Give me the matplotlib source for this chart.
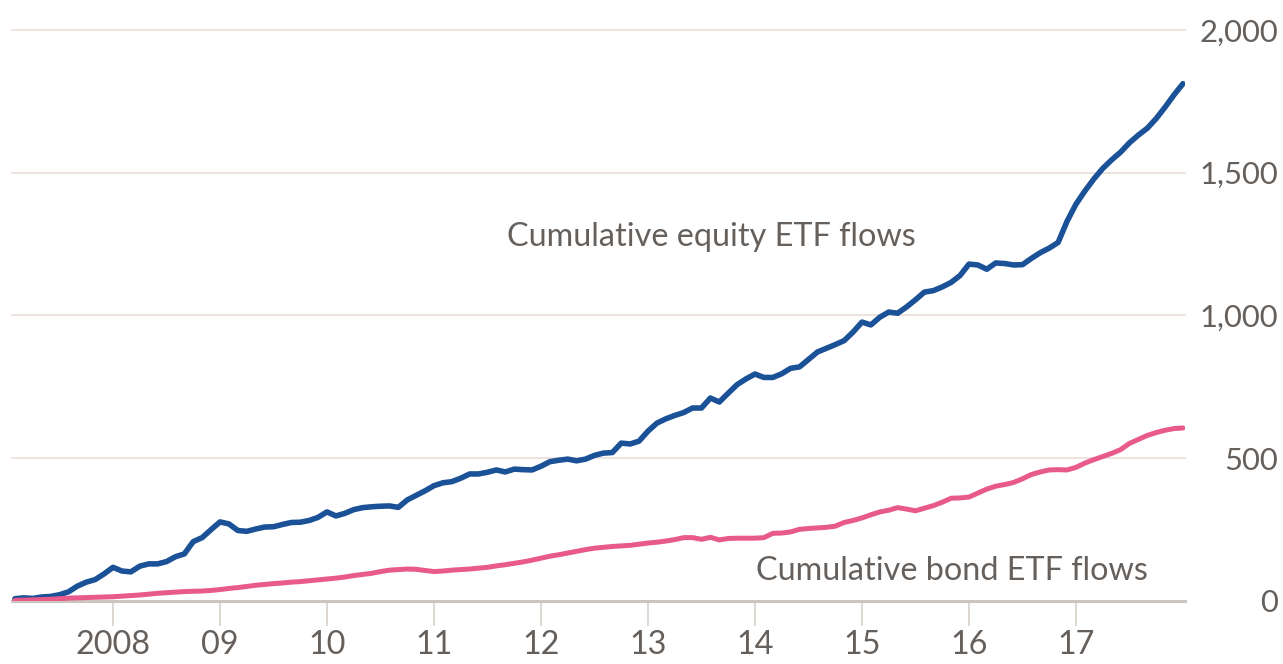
import matplotlib
matplotlib.use('Agg')
import matplotlib.pyplot as plt

# cumulative ETF flows ($bn), month-end values Jan 2007 - Dec 2017
equity_flows = [
    8, 11, 9, 14, 16, 22, 32, 52, 66, 75, 95, 118,
    105, 102, 122, 130, 130, 138, 155, 165, 208, 222, 250, 277,
    270, 247, 244, 252, 259, 260, 268, 275, 276, 282, 293, 312,
    298, 307, 320, 327, 330, 332, 333, 328, 354, 370, 386, 404,
    414, 418, 430, 445, 445, 451, 459, 452, 462, 460, 459, 472,
    488, 493, 497, 491, 497, 510, 518, 520, 553, 550, 560, 595,
    623, 638, 650, 660, 676, 676, 711, 697, 728, 758, 778, 795,
    783, 783, 796, 815, 820, 846, 872, 885, 898, 912, 942, 977,
    967, 994, 1012, 1008, 1030, 1055, 1082, 1087, 1100, 1116, 1140, 1180,
    1177, 1162, 1184, 1182, 1177, 1178, 1200, 1220, 1236, 1256, 1330, 1390,
    1436, 1478, 1515, 1545, 1572, 1605, 1632, 1656, 1690, 1730, 1773, 1812,
]
bond_flows = [
    2, 3, 4, 5, 6, 8, 10, 11, 12, 13, 14, 15,
    17, 19, 21, 24, 27, 29, 31, 33, 34, 35, 37, 40,
    44, 47, 51, 55, 58, 61, 63, 66, 68, 71, 74, 77,
    80, 84, 89, 93, 97, 103, 108, 110, 112, 111, 107, 103,
    105, 108, 110, 112, 115, 118, 123, 127, 132, 137, 143, 150,
    157, 162, 168, 174, 180, 185, 188, 191, 193, 195, 199, 203,
    206, 210, 215, 222, 222, 216, 223, 214, 219, 220, 220, 220,
    222, 237, 238, 242, 251, 254, 256, 258, 262, 275, 282, 291,
    302, 312, 318, 327, 322, 316, 325, 334, 346, 360, 361, 364,
    378, 392, 402, 408, 415, 428, 443, 452, 459, 460, 459, 468,
    483, 495, 506, 517, 530, 552, 566, 580, 590, 598, 604, 606,
]
years = list(range(2008, 2018))
year_labels = ['2008'] + [f'{y % 100:02d}' for y in years[1:]]
y_ticks = [0, 500, 1000, 1500, 2000]
y_labels = ['0', '500', '1,000', '1,500', '2,000']

dates = [2007 + (i + 1) / 12 for i in range(len(equity_flows))]

plt.rcParams['font.family'] = ['Lato', 'DejaVu Sans']
text_color = '#66605c'

fig = plt.figure(figsize=(12.83, 6.64), dpi=100)
ax = fig.add_axes([12 / 1283, 63 / 664, 1173 / 1283, 571 / 664])

ax.plot(dates, equity_flows, color='#1b5196', lw=4.0, solid_joinstyle='round',
        solid_capstyle='round', zorder=3)
ax.plot(dates, bond_flows, color='#e85a8c', lw=3.6, solid_joinstyle='round',
        solid_capstyle='round', zorder=3)

ax.set_xlim(2007.056, 2018.019)
ax.set_ylim(0, 2000)

for v in y_ticks[1:]:
    ax.axhline(v, color='#ecdfda', lw=1.3, zorder=1, clip_on=False)
ax.axhline(0, color='#cdc5bd', lw=2.2, zorder=2, clip_on=False)

for s in ax.spines.values():
    s.set_visible(False)

ax.set_xticks(years)
ax.set_xticklabels(year_labels)
ax.tick_params(axis='x', length=18, width=1.2, color='#d9d2cb', labelsize=23.3,
               labelcolor=text_color, pad=3)

ax.yaxis.tick_right()
ax.set_yticks(y_ticks)
ax.set_yticklabels(y_labels)
ax.tick_params(axis='y', length=0, labelsize=22.3, labelcolor=text_color, pad=67)
for lbl in ax.get_yticklabels():
    lbl.set_horizontalalignment('right')

ax.text(2013.59, 1275, 'Cumulative equity ETF flows', fontsize=23.3,
        color=text_color, ha='center', va='center')
ax.text(2015.84, 105, 'Cumulative bond ETF flows', fontsize=23.3,
        color=text_color, ha='center', va='center')

fig.savefig('out.png', dpi=100, facecolor='white')
